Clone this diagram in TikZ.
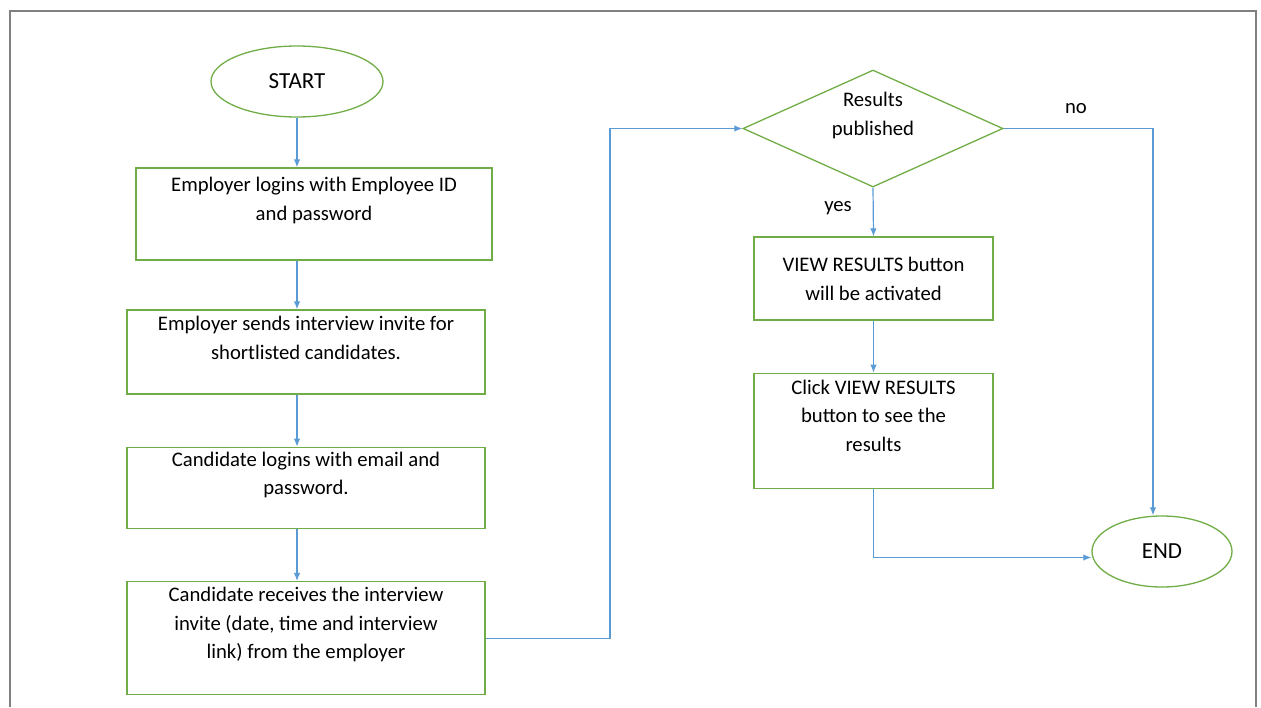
\documentclass[tikz,border=0pt]{standalone}
\usepackage{fontspec}
\setmainfont{Carlito}
\usetikzlibrary{positioning}
\usetikzlibrary{arrows.meta}
\usetikzlibrary{shapes.geometric}
\definecolor{boxgreen}{RGB}{112,173,71}
\definecolor{lineblue}{RGB}{91,155,213}
\definecolor{framegray}{RGB}{128,128,128}

\begin{document}
\begin{tikzpicture}[
    x=1pt, y=-1pt,
    node distance=50pt,
    every node/.style={font=\fontsize{20.7}{28.5}\selectfont},
    term/.style={ellipse, draw=boxgreen, line width=1.3pt, inner sep=0pt,
        font=\fontsize{23}{28}\selectfont},
    stepbox/.style={rectangle, draw=boxgreen, line width=1.3pt, inner sep=0pt},
    decision/.style={diamond, draw=boxgreen, line width=1.3pt, inner sep=0pt,
        minimum width=260pt, minimum height=117pt},
    txt/.style={anchor=north, inner sep=0pt, align=center},
    arr/.style={draw=lineblue, line width=1.2pt, -{Latex[length=8pt,width=6.5pt]}}
]
    \useasboundingbox (0,0) rectangle (1261,707);
    \draw[framegray, line width=2pt] (10,707) -- (10,11) -- (1256,11) -- (1256,707);

    % left column
    \node[term, minimum width=172pt, minimum height=71pt] (start) at (297,81.5) {START};
    \node[stepbox, minimum width=356pt, minimum height=92pt,
        label={[txt, yshift=-10pt]north:{Employer logins with Employee ID\\and password}}] (login) at (314,214) {};
    \node[stepbox, minimum width=358pt, minimum height=84pt,
        label={[txt, yshift=-7pt]north:{Employer sends interview invite for\\shortlisted candidates.}}] (invite) at (306,352) {};
    \node[stepbox, minimum width=358pt, minimum height=81pt, below=52pt of invite,
        label={[txt, yshift=-5pt]north:{Candidate logins with email and\\password.}}] (cand) {};
    \node[stepbox, minimum width=358pt, minimum height=113pt, below=52pt of cand,
        label={[txt, yshift=-6pt]north:{Candidate receives the interview\\invite (date, time and interview\\link) from the employer}}] (recv) {};

    % right column
    \node[decision, label={[txt, yshift=-23pt]north:{Results\\published}}] (pub) at (873,128.5) {};
    \node[stepbox, minimum width=239pt, minimum height=83pt,
        label={[txt, yshift=-21pt]north:{VIEW RESULTS button\\will be activated}}] (view) at (873.5,278.5) {};
    \node[stepbox, minimum width=239pt, minimum height=115pt, below=52pt of view,
        label={[txt, yshift=-7pt]north:{Click VIEW RESULTS\\button to see the\\results}}] (click) {};
    \node[term, minimum width=140pt, minimum height=71pt] (finish) at (1162,551.5) {END};

    \node (no) at (1076,109) {no};
    \node (yes) at (838,208) {yes};

    \coordinate (bend) at (610,0);

    \draw[arr] (start) -- (start |- login.north);
    \draw[arr] (start |- login.south) -- (start |- invite.north);
    \draw[arr] (start |- invite.south) -- (start |- cand.north);
    \draw[arr] (start |- cand.south) -- (start |- recv.north);
    \draw[arr] (recv.east) -| (bend |- pub.west) -- (pub.west);
    \draw[arr] (pub.east) -| ([xshift=-9pt]finish.north);
    \draw[arr] (pub.south) -- (view.north);
    \draw[arr] (view.south) -- (click.north);
    \draw[arr] (click.south) |- ([yshift=-6pt]finish.west);
\end{tikzpicture}
\end{document}
